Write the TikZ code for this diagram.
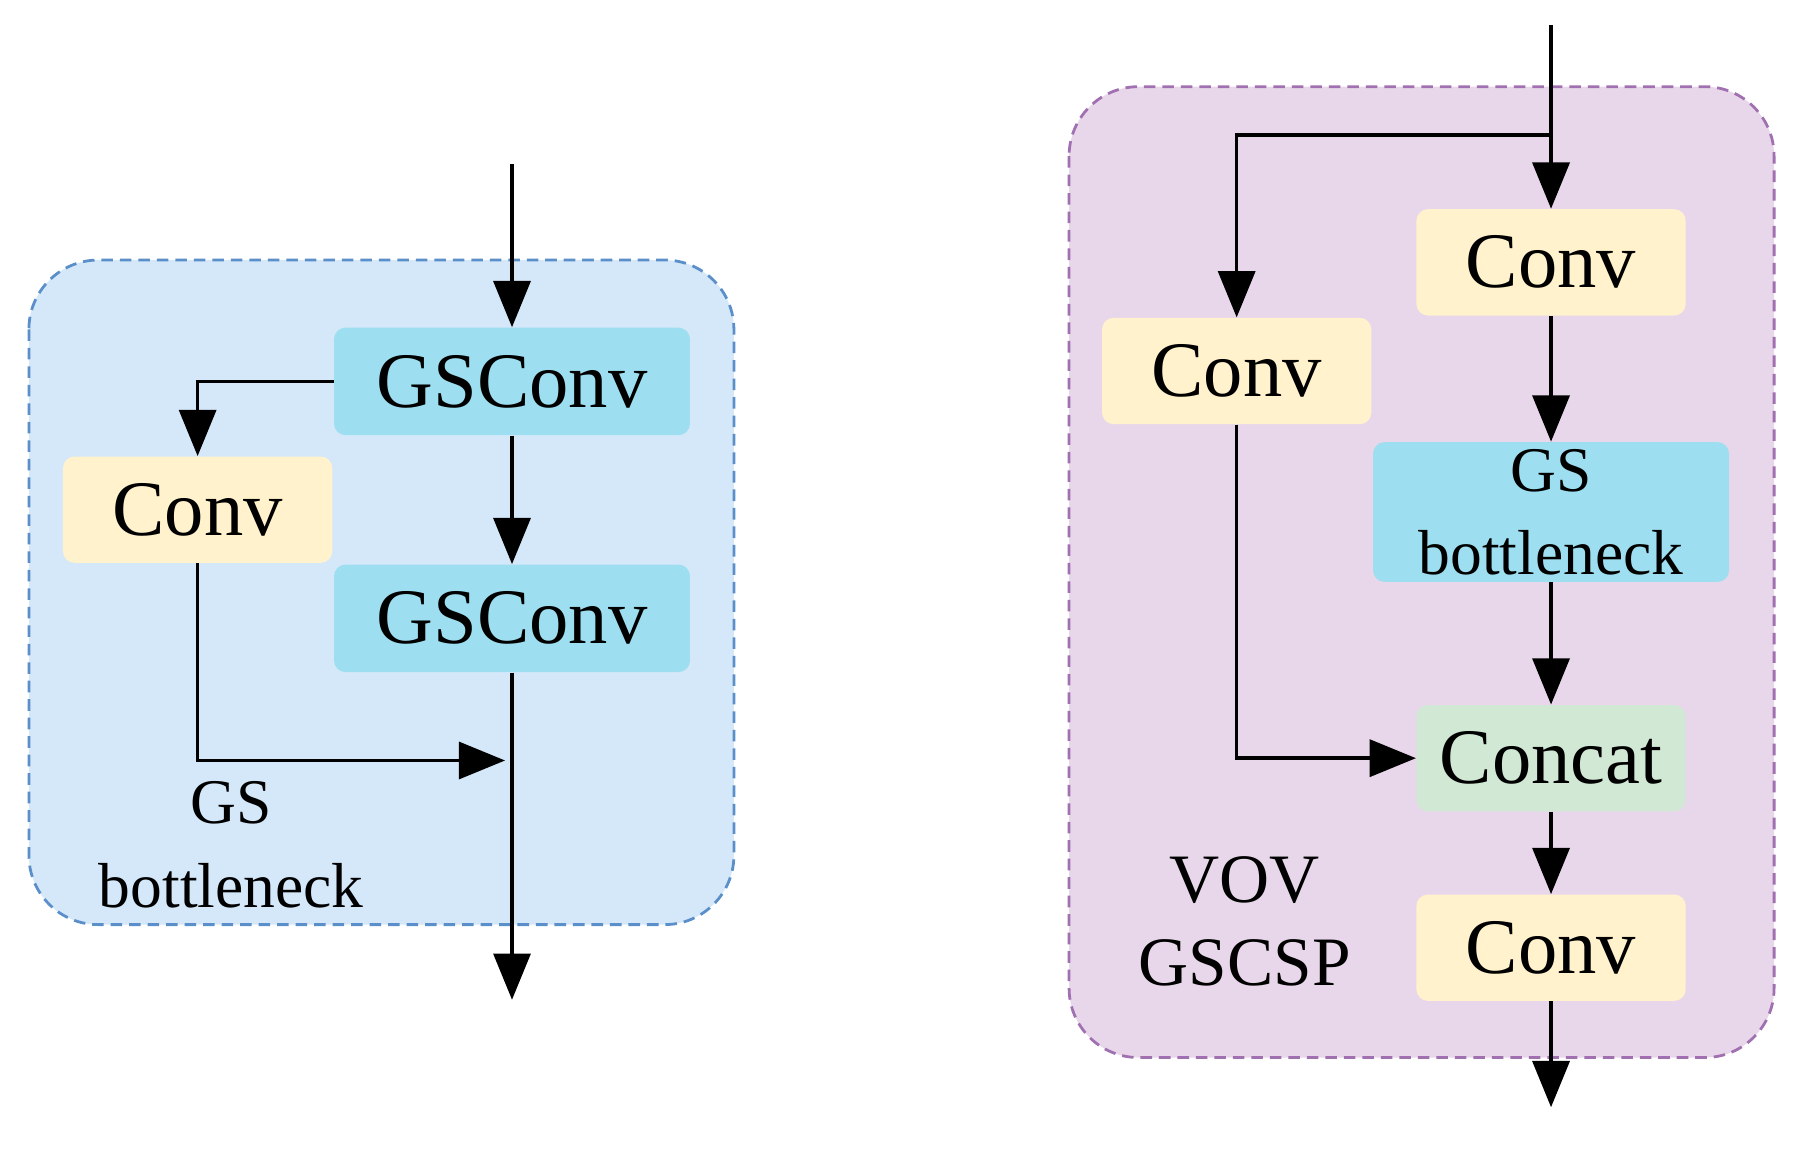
\documentclass[tikz,border=0pt]{standalone}
\usepackage{fontspec}
\setmainfont{Liberation Serif}
\usetikzlibrary{arrows.meta}

\definecolor{blueBg}{HTML}{D4E8FA}
\definecolor{blueLine}{HTML}{5B8FC9}
\definecolor{purpleBg}{HTML}{E8D7EA}
\definecolor{purpleLine}{HTML}{A070B0}
\definecolor{gsBlue}{HTML}{9DDFF0}
\definecolor{convYellow}{HTML}{FFF2CC}
\definecolor{catGreen}{HTML}{D0E8D4}

\tikzset{
    block/.style={rounded corners=5pt, inner sep=0pt, align=center,
                  font=\fontsize{34}{34}\selectfont},
    conv/.style={block, fill=convYellow, minimum width=116.5pt, minimum height=46pt},
    gsconv/.style={block, fill=gsBlue, minimum width=154pt, minimum height=46.5pt},
    flow/.style={-{Triangle[width=16pt,length=20pt]}, line width=1.5pt},
    frame/.style={dashed, line width=1.2pt, rounded corners=30pt, dash pattern=on 5pt off 3pt},
    caption/.style={align=center, font=\fontsize{27.5}{36}\selectfont}
}

\begin{document}
\begin{tikzpicture}[x=0.5pt,y=-0.5pt]
    \useasboundingbox (0,0) rectangle (1560,994);
    % frames
    \draw [frame, fill=blueBg, draw=blueLine] (25,225) rectangle (635,800);
    \draw [frame, fill=purpleBg, draw=purpleLine] (925,75) rectangle (1535,915);

    % GS bottleneck
    \node [gsconv] (gs1) at (443,330) {GSConv};
    \node [conv] (cv1) at (171,441) {Conv};
    \node [gsconv] (gs2) at (443,535) {GSConv};
    \node [caption] (lbl1) at (200,731) {GS\\bottleneck};
    \coordinate (in1) at (443,142);
    \coordinate (out1) at (443,865);
    \coordinate (join1) at (437,658);

    \draw [flow] (in1) -- (gs1);
    \draw [flow] (gs1) -- (gs2);
    \draw [flow] (gs1.west) -| (cv1.north);
    \draw [flow] (cv1.south) |- (join1);
    \draw [flow] (gs2) -- (out1);

    % VOV GSCSP
    \node [conv] (cv2) at (1342,227) {Conv};
    \node [conv] (cv3) at (1070,321) {Conv};
    \node [gsconv, font=\fontsize{27.5}{36}\selectfont, minimum height=60.5pt] (gsb) at (1342,443) {GS\\bottleneck};
    \node [conv, fill=catGreen] (cat) at (1342,656) {Concat};
    \node [conv] (cv4) at (1342,820) {Conv};
    \node [caption, font=\fontsize{30}{36}\selectfont] (lbl2) at (1077,797) {VOV\\GSCSP};
    \coordinate (in2) at (1342,22);
    \coordinate (split2) at (1342,117);
    \coordinate (out2) at (1342,958);

    \draw [flow] (in2) -- (cv2);
    \draw [flow] (split2) -| (cv3.north);
    \draw [flow] (cv2) -- (gsb);
    \draw [flow] (gsb) -- (cat);
    \draw [flow] (cv3.south) |- (cat.west);
    \draw [flow] (cat) -- (cv4);
    \draw [flow] (cv4) -- (out2);
\end{tikzpicture}
\end{document}
